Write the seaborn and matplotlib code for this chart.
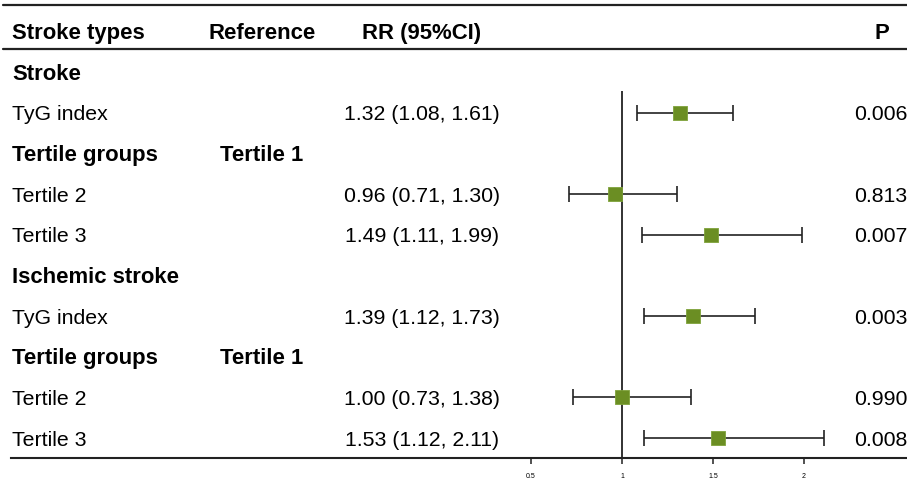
import matplotlib
matplotlib.use("Agg")
import matplotlib.pyplot as plt
import matplotlib.transforms as mtransforms
from matplotlib.lines import Line2D
import seaborn as sns
import pandas as pd

sns.set_theme(style="white")
plt.rcParams['font.family'] = ['Liberation Sans', 'DejaVu Sans']

# ---- data ----
headers = ["Stroke types", "Reference", "RR (95%CI)", "P"]
row_labels = ["Stroke", "TyG index", "Tertile groups", "Tertile 2", "Tertile 3",
              "Ischemic stroke", "TyG index", "Tertile groups", "Tertile 2", "Tertile 3"]
row_bold = [True, False, True, False, False, True, False, True, False, False]
reference_col = ["", "", "Tertile 1", "", "", "", "", "Tertile 1", "", ""]
est_rows = [1, 3, 4, 6, 8, 9]
rr = [1.32, 0.96, 1.49, 1.39, 1.00, 1.53]
lower = [1.08, 0.71, 1.11, 1.12, 0.73, 1.12]
upper = [1.61, 1.30, 1.99, 1.73, 1.38, 2.11]
p_values = ["0.006", "0.813", "0.007", "0.003", "0.990", "0.008"]
xticks = [0.5, 1, 1.5, 2]
xtick_labels = ["0.5", "1", "1.5", "2"]

df = pd.DataFrame({"row": est_rows, "rr": rr, "lo": lower, "hi": upper, "p": p_values})

W, H = 907, 479
fig = plt.figure(figsize=(W / 100, H / 100), dpi=100)

# axes spans x pixels 11..907, y pixels 0..458
ax = fig.add_axes([11 / W, (H - 458) / H, (W - 11) / W, 458 / H])
px_per_unit = 182.0
x_one = 622.0
ax.set_xlim(1 - (x_one - 11) / px_per_unit, 1 + (W - x_one) / px_per_unit)
row0, row_step = 72.0, 40.67
ax.set_ylim((458 - row0) / row_step, (0 - row0) / row_step)

ink = "#222222"
green = "#6b8e23"

# reference vertical line at RR = 1
ax.plot([1, 1], [(91 - row0) / row_step, (458 - row0) / row_step], color=ink, lw=1.3,
        solid_capstyle="butt", zorder=1)

# CIs
ax.errorbar(df["rr"], df["row"], xerr=[df["rr"] - df["lo"], df["hi"] - df["rr"]],
            fmt="none", ecolor=ink, elinewidth=1.2, capsize=5.8, capthick=1.2, zorder=2)
sns.scatterplot(data=df, x="rr", y="row", marker="s", s=95, color=green,
                edgecolor="#7fa33a", linewidth=0.6, ax=ax, zorder=3, legend=False)

# axes styling
for s in ["left", "top", "right"]:
    ax.spines[s].set_visible(False)
ax.spines["bottom"].set_color(ink)
ax.spines["bottom"].set_linewidth(1.5)
ax.set_yticks([])
ax.set_xticks(xticks)
ax.set_xticklabels(xtick_labels)
ax.tick_params(axis="x", direction="out", length=4, width=1.1, color=ink,
               labelsize=5, pad=6.5, labelcolor="black", bottom=True)
ax.set_xlabel("")
ax.set_ylabel("")

# header rules
fig.add_artist(Line2D([3 / W, 1], [1 - 5 / H, 1 - 5 / H], color=ink, lw=1.6))
fig.add_artist(Line2D([3 / W, 1], [1 - 49 / H, 1 - 49 / H], color=ink, lw=1.6))

tr = mtransforms.blended_transform_factory(fig.transFigure, ax.transData)
fs = 15.3
fsb = 15.9
dy = 0.05  # small downward nudge of text relative to row centre

hy = -1.0 + dy
ax.text(12 / W, hy, headers[0], transform=tr, ha="left", va="center", fontsize=fsb,
        fontweight="bold", color="black")
ax.text(208 / W, hy, headers[1], transform=tr, ha="left", va="center", fontsize=fsb,
        fontweight="bold", color="black")
ax.text(422 / W, hy, headers[2], transform=tr, ha="center", va="center", fontsize=fsb,
        fontweight="bold", color="black")
ax.text(882 / W, hy, headers[3], transform=tr, ha="center", va="center", fontsize=fsb,
        fontweight="bold", color="black")

for i, (lab, b) in enumerate(zip(row_labels, row_bold)):
    ax.text(12 / W, i + dy, lab, transform=tr, ha="left", va="center",
            fontsize=fsb if b else fs,
            fontweight="bold" if b else "normal", color="black")
    if reference_col[i]:
        ax.text(220 / W, i + dy, reference_col[i], transform=tr, ha="left", va="center",
                fontsize=fsb, fontweight="bold", color="black")

for r, e, lo, hi, p in zip(est_rows, rr, lower, upper, p_values):
    ax.text(422 / W, r + dy, f"{e:.2f} ({lo:.2f}, {hi:.2f})", transform=tr, ha="center",
            va="center", fontsize=fs, color="black")
    ax.text(881 / W, r + dy, p, transform=tr, ha="center", va="center", fontsize=fs,
            color="black")

fig.savefig("out.png", dpi=100)
